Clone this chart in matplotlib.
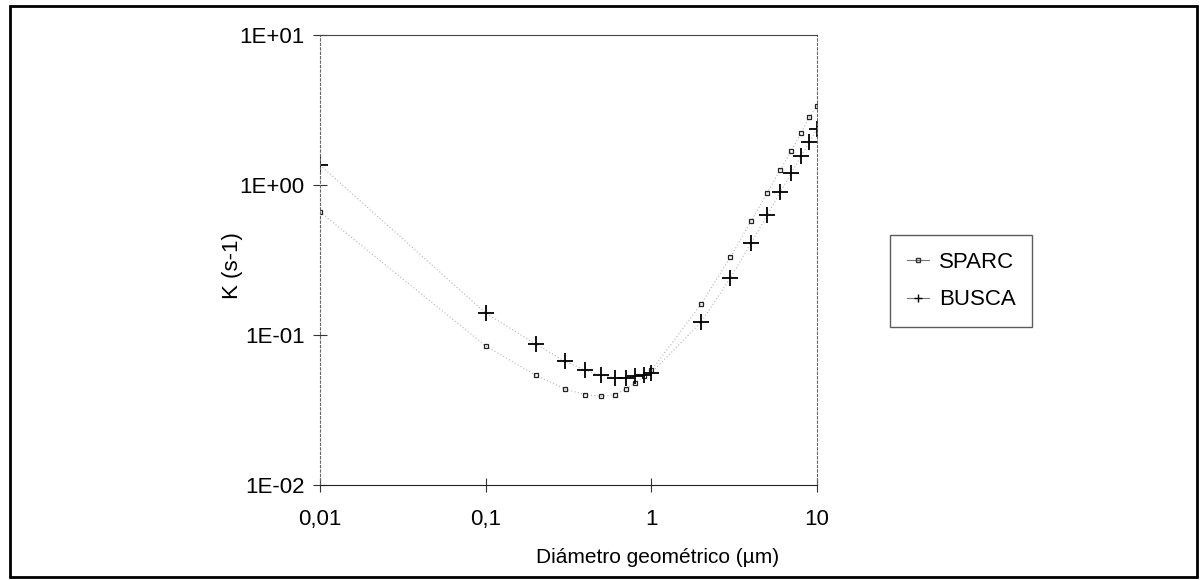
import numpy as np
import matplotlib.pyplot as plt
import matplotlib.ticker as ticker
from matplotlib.patches import Rectangle
from matplotlib.lines import Line2D

plt.rcParams['font.family'] = ['Liberation Sans', 'DejaVu Sans']

# diameter (um)
diam = [0.01, 0.1, 0.2, 0.3, 0.4, 0.5, 0.6, 0.7, 0.8, 0.9, 1.0,
        2, 3, 4, 5, 6, 7, 8, 9, 10]

# K (s-1)
k_sparc = [0.66, 0.0845, 0.054, 0.0436, 0.040, 0.039, 0.040, 0.0436, 0.048,
           0.053, 0.058, 0.161, 0.331, 0.575, 0.885, 1.26, 1.69, 2.22, 2.84, 3.36]
k_busca = [1.36, 0.140, 0.087, 0.067, 0.058, 0.054, 0.052, 0.052, 0.053,
           0.054, 0.056, 0.122, 0.24, 0.41, 0.63, 0.90, 1.20, 1.56, 1.94, 2.37]

xticks = [0.01, 0.1, 1, 10]
xlabels = ['0,01', '0,1', '1', '10']
yticks = [0.01, 0.1, 1, 10]
ylabels = ['1E-02', '1E-01', '1E+00', '1E+01']

fs = 16

fig = plt.figure(figsize=(12.04, 5.80), dpi=100)
ax = fig.add_axes([0.2658, 0.1638, 0.4128, 0.7759])

# faint connecting lines, markers on top
ax.plot(diam, k_sparc, color='#b5b5b5', lw=0.8, ls=(0, (1, 2)), zorder=1)
ax.plot(diam, k_busca, color='#b5b5b5', lw=0.8, ls=(0, (1, 2)), zorder=1)
ax.plot(diam, k_sparc, ls='none', marker='s', ms=3.5, mfc='none',
        mec='#222222', mew=0.9, zorder=2)
ax.plot(diam, k_busca, ls='none', marker='+', ms=11, mec='black',
        mew=1.3, zorder=2)

ax.set_xscale('log')
ax.set_yscale('log')
ax.set_xlim(0.01, 10)
ax.set_ylim(0.01, 10)
ax.xaxis.set_major_locator(ticker.FixedLocator(xticks))
ax.xaxis.set_major_formatter(ticker.FixedFormatter(xlabels))
ax.xaxis.set_minor_locator(ticker.NullLocator())
ax.yaxis.set_major_locator(ticker.FixedLocator(yticks))
ax.yaxis.set_major_formatter(ticker.FixedFormatter(ylabels))
ax.yaxis.set_minor_locator(ticker.NullLocator())
ax.tick_params(direction='inout', length=10, width=0.8, labelsize=fs,
               color='#333333')
ax.tick_params(axis='y', pad=6)
ax.tick_params(axis='x', pad=12)

ax.spines['top'].set_color('#444444')
ax.spines['bottom'].set_color('#222222')
for s in ['left', 'right']:
    ax.spines[s].set_linestyle((0, (2, 2)))
    ax.spines[s].set_color('#666666')
    ax.spines[s].set_linewidth(0.8)

ax.set_xlabel('Diámetro geométrico (µm)', fontsize=15)
ax.xaxis.set_label_coords(0.68, -0.14)
ax.set_ylabel('K (s-1)', fontsize=fs)
ax.yaxis.set_label_coords(-0.155, 0.487)

handles = [
    Line2D([], [], color='#777777', lw=0.8, marker='s', ms=3, mfc='none',
           mec='#333333'),
    Line2D([], [], color='#777777', lw=0.8, marker='+', ms=6, mec='black'),
]
leg = fig.legend(handles, ['SPARC', 'BUSCA'], loc='upper left',
                 bbox_to_anchor=(890 / 1204, 1 - 235 / 580), fontsize=fs,
                 frameon=True, fancybox=False, handlelength=1.0,
                 handletextpad=0.45, labelspacing=0.75, borderpad=0.75,
                 borderaxespad=0)
leg.get_frame().set_edgecolor('#333333')
leg.get_frame().set_linewidth(1.0)

fig.patches.append(Rectangle((0.008, 0.006), 0.986, 0.984,
                             transform=fig.transFigure, fill=False,
                             edgecolor='black', lw=2))

fig.savefig('out.png', dpi=100)
